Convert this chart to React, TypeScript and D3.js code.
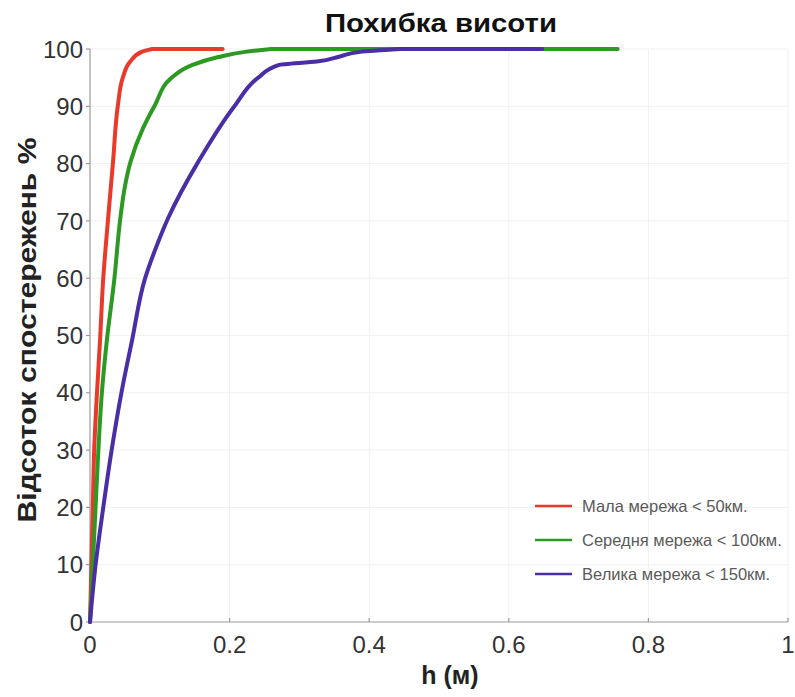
import React from "react";
import * as d3 from "d3";

// Cumulative share of observations (%) against height error h (m)
const smallH = [0, 0.002, 0.004, 0.006, 0.01, 0.0143, 0.019, 0.026, 0.033, 0.04, 0.047, 0.057, 0.074, 0.089, 0.19];
const smallP = [0, 10, 20, 30, 40, 49, 60, 70.5, 80.3, 90.2, 95, 97.7, 99.5, 100, 100];

const mediumH = [0, 0.004, 0.008, 0.012, 0.017, 0.024, 0.035, 0.043, 0.05, 0.058, 0.076, 0.093, 0.117, 0.146, 0.184, 0.222, 0.26, 0.756];
const mediumP = [0, 10, 20, 30, 40, 49, 60, 70, 76, 80.3, 86.2, 90.2, 95, 97.2, 98.6, 99.5, 100, 100];

const largeH = [0, 0.008, 0.019, 0.031, 0.045, 0.06, 0.079, 0.096, 0.112, 0.155, 0.208, 0.241, 0.27, 0.325, 0.358, 0.387, 0.444, 0.648];
const largeP = [0, 10, 20, 30, 40, 49, 60, 65.8, 70.5, 80.3, 90.2, 95, 97.2, 97.8, 98.7, 99.5, 100, 100];

const seriesNames = ["Мала мережа < 50км.", "Середня мережа < 100км.", "Велика мережа < 150км."];
const seriesColors = ["#e8392a", "#2c9a22", "#4a2ea6"];

const xTicks = [0, 0.2, 0.4, 0.6, 0.8, 1];
const yTicks = [0, 10, 20, 30, 40, 50, 60, 70, 80, 90, 100];

const title = "Похибка висоти";
const xLabel = "h (м)";
const yLabel = "Відсоток спостережень %";

const W = 795;
const H = 697;
const left = 90;
const right = 788;
const top = 49;
const bottom = 622;

export default function App() {
  const x = d3.scaleLinear().domain([0, 1]).range([left, right]);
  const y = d3.scaleLinear().domain([0, 100]).range([bottom, top]);

  // rising part: smooth in y (x as a function of y); flat tail: straight
  const rising = d3
    .line<[number, number]>()
    .x((d) => x(d[0]))
    .y((d) => y(d[1]))
    .curve(d3.curveMonotoneY);

  const pathFor = (hs: number[], ps: number[]) => {
    const pts = hs.map((h, i) => [h, ps[i]] as [number, number]);
    const k = ps.indexOf(100);
    const head = pts.slice(0, k + 1);
    const tail = pts.slice(k + 1);
    let d = rising(head) || "";
    tail.forEach((p) => {
      d += `L${x(p[0])},${y(p[1])}`;
    });
    return d;
  };

  const paths = [pathFor(smallH, smallP), pathFor(mediumH, mediumP), pathFor(largeH, largeP)];

  const font = "Liberation Sans, Arial, sans-serif";

  return (
    <svg
      width={W}
      height={H}
      style={{ position: "absolute", left: 0, top: 0, background: "#fff" }}
      fontFamily={font}
    >
      {/* faint grid */}
      <g stroke="#f1f1f1" strokeWidth={1}>
        {xTicks.slice(1).map((t) => (
          <line key={"gx" + t} x1={x(t)} x2={x(t)} y1={top} y2={bottom} />
        ))}
        {yTicks.slice(1).map((t) => (
          <line key={"gy" + t} x1={left} x2={right} y1={y(t)} y2={y(t)} />
        ))}
      </g>

      {/* axes */}
      <g stroke="#9a9a9a" strokeWidth={1.2}>
        <line x1={left} x2={left} y1={top} y2={bottom} />
        <line x1={left} x2={right} y1={bottom} y2={bottom} />
        {yTicks.map((t) => (
          <line key={"ty" + t} x1={left - 4} x2={left} y1={y(t)} y2={y(t)} />
        ))}
        {xTicks.map((t) => (
          <line key={"tx" + t} x1={x(t)} x2={x(t)} y1={bottom} y2={bottom - 4} />
        ))}
      </g>

      <g fill="#333" fontSize={24} textAnchor="end">
        {yTicks.map((t) => (
          <text key={"ly" + t} x={left - 7} y={y(t)} dy="0.36em">
            {t}
          </text>
        ))}
      </g>
      <g fill="#333" fontSize={24} textAnchor="middle">
        {xTicks.map((t) => (
          <text key={"lx" + t} x={x(t)} y={653}>
            {d3.format("~g")(t)}
          </text>
        ))}
      </g>

      {/* curves */}
      {paths.map((d, i) => (
        <path
          key={"s" + i}
          d={d}
          fill="none"
          stroke={seriesColors[i]}
          strokeWidth={4}
          strokeLinejoin="round"
          strokeLinecap="round"
        />
      ))}

      {/* legend */}
      <g fontSize={16.5} fill="#5a5a5a">
        {seriesNames.map((n, i) => (
          <g key={"lg" + i} transform={`translate(535, ${506 + i * 34})`}>
            <line x1={0} x2={37} y1={0} y2={0} stroke={seriesColors[i]} strokeWidth={2.5} />
            <text x={47} y={0} dy="0.35em">
              {n}
            </text>
          </g>
        ))}
      </g>

      <text
        x={441}
        y={32}
        textAnchor="middle"
        fontSize={25}
        fontWeight="bold"
        fill="#111"
        textLength={232}
        lengthAdjust="spacingAndGlyphs"
      >
        {title}
      </text>
      <text x={450} y={684} textAnchor="middle" fontSize={25} fontWeight="bold" fill="#222">
        {xLabel}
      </text>
      <text
        transform={`translate(36, 330) rotate(-90)`}
        textAnchor="middle"
        fontSize={26}
        fontWeight="bold"
        fill="#222"
        textLength={385}
        lengthAdjust="spacingAndGlyphs"
      >
        {yLabel}
      </text>
    </svg>
  );
}
